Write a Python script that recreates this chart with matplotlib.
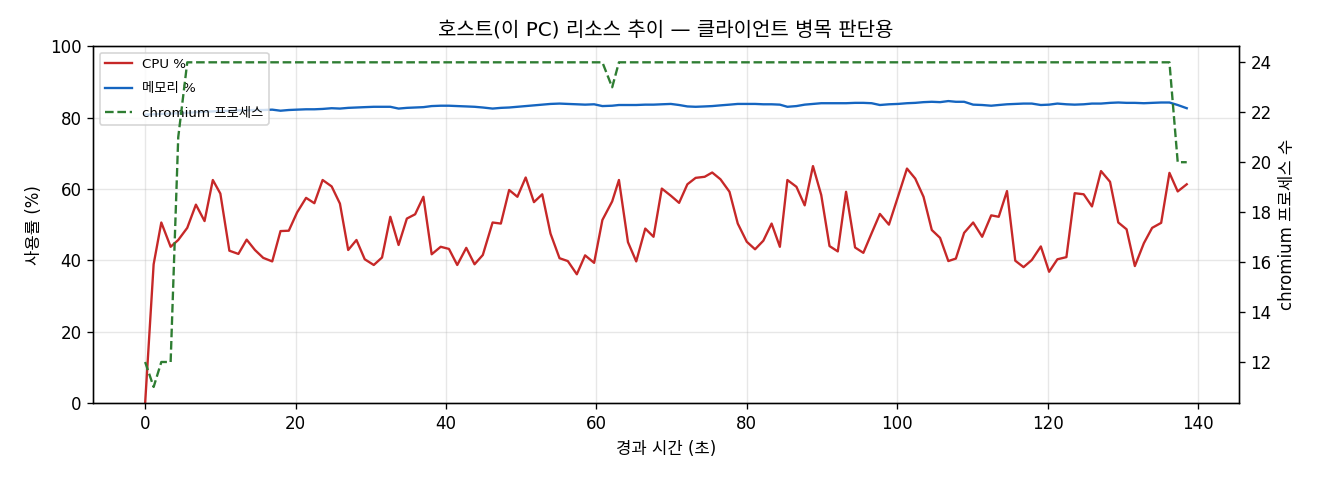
import matplotlib
matplotlib.use("Agg")
import matplotlib.pyplot as plt

plt.rcParams['font.family'] = ['DejaVu Sans', 'Noto Sans CJK KR']
plt.rcParams['axes.unicode_minus'] = False

elapsed_s = [0.0, 1.13, 2.15, 3.39, 4.4, 5.6, 6.75, 7.9, 9.0, 10.0,
             11.2, 12.4, 13.5, 14.6, 15.7, 16.9, 18.0, 19.1, 20.2, 21.4,
             22.5, 23.6, 24.8, 25.9, 27.0, 28.1, 29.2, 30.4, 31.5, 32.6,
             33.7, 34.8, 35.9, 37.0, 38.1, 39.3, 40.4, 41.5, 42.7, 43.8,
             44.9, 46.2, 47.3, 48.4, 49.5, 50.6, 51.7, 52.8, 53.9, 55.1,
             56.2, 57.4, 58.5, 59.7, 60.8, 62.1, 63.0, 64.2, 65.3, 66.5,
             67.6, 68.7, 69.9, 71.0, 72.1, 73.2, 74.4, 75.4, 76.5, 77.7,
             78.8, 80.0, 81.1, 82.2, 83.3, 84.4, 85.4, 86.6, 87.7, 88.8,
             89.9, 91.0, 92.1, 93.2, 94.4, 95.5, 96.6, 97.7, 98.9, 100.1,
             101.3, 102.4, 103.5, 104.6, 105.7, 106.8, 107.8, 108.9, 110.1, 111.3,
             112.5, 113.5, 114.6, 115.7, 116.8, 117.9, 119.1, 120.2, 121.3, 122.5,
             123.6, 124.8, 125.9, 127.1, 128.3, 129.4, 130.5, 131.6, 132.8, 133.9,
             135.1, 136.2, 137.3, 138.5]

cpu_pct = [0.0, 38.9, 50.6, 43.8, 45.7, 49.1, 55.6, 51.0, 62.5, 58.7,
           42.7, 41.8, 45.8, 42.9, 40.7, 39.7, 48.2, 48.3, 53.4, 57.5,
           56.0, 62.5, 60.7, 55.9, 42.9, 45.7, 40.3, 38.7, 40.8, 52.2,
           44.3, 51.7, 52.9, 57.8, 41.7, 43.8, 43.2, 38.7, 43.5, 38.9,
           41.5, 50.6, 50.3, 59.7, 57.8, 63.2, 56.3, 58.5, 47.5, 40.6,
           39.8, 36.1, 41.4, 39.3, 51.3, 56.5, 62.5, 45.1, 39.7, 48.9,
           46.6, 60.1, 58.1, 56.1, 61.3, 63.1, 63.4, 64.6, 62.7, 59.2,
           50.3, 45.2, 43.1, 45.5, 50.3, 43.8, 62.5, 60.6, 55.4, 66.4,
           58.3, 44.0, 42.5, 59.2, 43.6, 42.1, 47.6, 53.0, 50.0, 57.8,
           65.7, 62.9, 57.8, 48.5, 46.3, 39.8, 40.5, 47.7, 50.6, 46.6,
           52.6, 52.2, 59.4, 39.9, 38.1, 40.1, 43.9, 36.8, 40.3, 40.9,
           58.8, 58.5, 55.1, 65.0, 62.0, 50.6, 48.7, 38.4, 44.8, 49.1,
           50.5, 64.5, 59.3, 61.3]

mem_pct = [80.8, 80.9, 81.0, 81.1, 81.2, 81.3, 81.5, 81.6, 81.7, 81.8,
           81.9, 82.0, 82.0, 82.1, 82.1, 82.2, 81.9, 82.1, 82.2, 82.3,
           82.3, 82.4, 82.6, 82.5, 82.7, 82.8, 82.9, 83.0, 83.0, 83.0,
           82.5, 82.7, 82.8, 82.9, 83.2, 83.3, 83.3, 83.2, 83.1, 83.0,
           82.8, 82.5, 82.7, 82.8, 83.0, 83.2, 83.4, 83.6, 83.8, 83.9,
           83.8, 83.7, 83.6, 83.7, 83.2, 83.3, 83.5, 83.5, 83.5, 83.6,
           83.6, 83.7, 83.8, 83.5, 83.1, 83.0, 83.1, 83.2, 83.4, 83.6,
           83.8, 83.8, 83.8, 83.7, 83.7, 83.6, 83.0, 83.2, 83.6, 83.8,
           84.0, 84.0, 84.0, 84.0, 84.1, 84.1, 84.0, 83.5, 83.7, 83.8,
           84.0, 84.1, 84.3, 84.4, 84.3, 84.6, 84.4, 84.4, 83.6, 83.5,
           83.3, 83.5, 83.7, 83.8, 83.9, 83.9, 83.5, 83.6, 83.9, 83.7,
           83.6, 83.7, 83.9, 83.9, 84.1, 84.2, 84.1, 84.1, 84.0, 84.1,
           84.2, 84.2, 83.5, 82.6]

chromium_procs = [12, 11, 12, 12, 21] + [24] * 50 + [23] + [24] * 66 + [20, 20]

fig = plt.figure(figsize=(11, 4), dpi=120)
ax = fig.add_axes([0.0705, 0.160, 0.868, 0.744])
ax2 = ax.twinx()

l1, = ax.plot(elapsed_s, cpu_pct, color='#c62828', lw=1.4, label='CPU %')
l2, = ax.plot(elapsed_s, mem_pct, color='#1565c0', lw=1.4, label='메모리 %')
l3, = ax2.plot(elapsed_s, chromium_procs, color='#2e7d32', lw=1.4, ls='--',
               label='chromium 프로세스')

ax.set_ylim(0, 100)
ax.set_xlabel('경과 시간 (초)')
ax.set_ylabel('사용률 (%)')
ax2.set_ylabel('chromium 프로세스 수')
ax.set_title('호스트(이 PC) 리소스 추이 — 클라이언트 병목 판단용')
ax.grid(True, alpha=0.3)

ax.legend(handles=[l1, l2, l3], loc='upper left', fontsize=8, labelspacing=0.85)

fig.savefig('out.png', dpi=120)
